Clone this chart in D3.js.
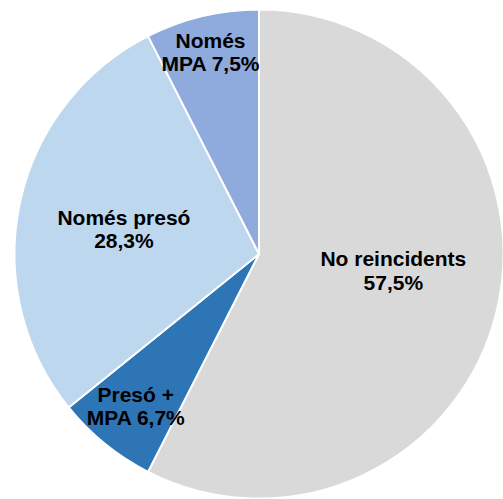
<!DOCTYPE html>
<html>
<head>
<meta charset="utf-8">
<script src="https://cdn.jsdelivr.net/npm/d3@7"></script>
<style>
html,body{margin:0;padding:0;background:#fff;}
svg{display:block;}
</style>
</head>
<body>
<svg id="chart" width="503" height="499"></svg>
<script>
const categories = ["No reincidents", "Presó +", "Només presó", "Només"];
const labelSecond = ["57,5%", "MPA 6,7%", "28,3%", "MPA 7,5%"];
const values = [57.5, 6.7, 28.3, 7.5];
const colors = ["#d9d9d9", "#2e75b6", "#bdd7ee", "#8faadc"];

// label layout (not data)
const labelRatio = [0.565, 0.80, 0.565, 0.85];
const labelNudgeY = [-16, 0, 4, 0];

const svg = d3.select("#chart");
const cx = 259, cy = 254, r = 244.5;
const g = svg.append("g").attr("transform", `translate(${cx},${cy})`);

const data = categories.map((c, i) => ({cat: c, second: labelSecond[i], value: values[i], color: colors[i], idx: i}));
const pie = d3.pie().value(d => d.value).sort(null);
const arcs = pie(data);
const arc = d3.arc().innerRadius(0).outerRadius(r);

g.selectAll("path").data(arcs).enter().append("path")
  .attr("d", arc)
  .attr("fill", d => d.data.color)
  .attr("stroke", "#fff")
  .attr("stroke-width", 2)
  .attr("stroke-linejoin", "round");

const labelPos = d => {
  const rr = r * labelRatio[d.data.idx];
  const [x, y] = d3.arc().innerRadius(rr).outerRadius(rr).centroid(d);
  return [x, y + labelNudgeY[d.data.idx]];
};

const labels = g.selectAll("text.lbl").data(arcs).enter().append("text")
  .attr("class", "lbl")
  .attr("text-anchor", "middle")
  .attr("font-family", "Liberation Sans, Arial, sans-serif")
  .attr("font-weight", "bold")
  .attr("font-size", 21)
  .attr("fill", "#000")
  .attr("transform", d => { const [x, y] = labelPos(d); return `translate(${x},${y})`; });

labels.append("tspan").attr("x", 0).attr("dy", "-0.2em").text(d => d.data.cat);
labels.append("tspan").attr("x", 0).attr("dy", "1.12em").text(d => d.data.second);
</script>
</body>
</html>
